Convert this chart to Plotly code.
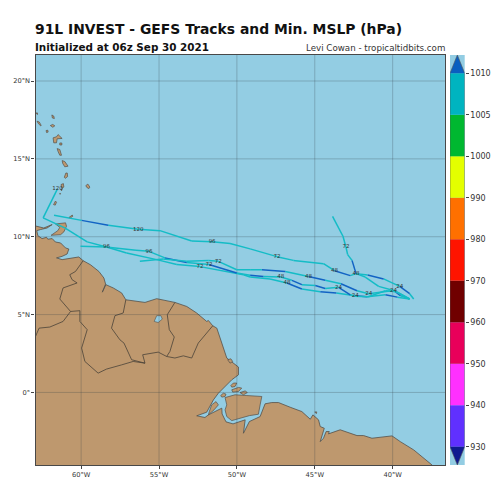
import plotly.graph_objects as go

TITLE = "91L INVEST - GEFS Tracks and Min. MSLP (hPa)"
SUBTITLE = "Initialized at 06z Sep 30 2021"
CREDIT = "Levi Cowan - tropicaltidbits.com"

LON_TICKS = [-60, -55, -50, -45, -40]
LON_LABELS = ["60°W", "55°W", "50°W", "45°W", "40°W"]
LAT_TICKS = [0, 5, 10, 15, 20]
LAT_LABELS = ["0°", "5°N", "10°N", "15°N", "20°N"]

LEVELS = [930, 940, 950, 960, 970, 980, 990, 1000, 1005, 1010]
BIN_COLORS = ["#6030ff", "#ff30ff", "#e8005a", "#700000", "#ff1400",
              "#ff7000", "#e4ff00", "#00b830", "#00b4c0"]
OVER_COLOR = "#0a5fc0"
UNDER_COLOR = "#101a90"

# ---- tracks: lon, lat, min. MSLP per leg, forecast-hour label per point
T1_LON = [-38.65, -38.91, -39.55, -40.58, -41.61, -42.35, -42.72, -43.73, -44.44, -46.37,
          -47.43, -49.15, -50.44, -51.59, -52.90, -54.94, -56.33, -58.26, -59.97, -61.74]
T1_LAT = [6.00, 6.34, 6.81, 7.29, 7.54, 7.63, 7.50, 7.82, 8.27, 8.48,
          8.72, 9.22, 9.56, 9.67, 9.73, 10.39, 10.48, 10.73, 11.05, 11.38]
T1_P = [1008, 1011, 1008, 1011, 1008, 1008, 1011, 1008, 1008, 1008,
        1008, 1008, 1008, 1008, 1008, 1008, 1008, 1011, 1008, 1008]
T1_H = ["", "", "24", "", "", "", "", "48", "", "",
        "72", "", "", "96", "", "", "120", "", "", ""]

T2_LON = [-38.91, -39.50, -39.94, -40.90, -41.76, -42.35, -42.61, -42.89, -43.00, -43.19, -43.86]
T2_LAT = [6.00, 6.21, 6.55, 6.81, 7.41, 7.63, 8.48, 8.85, 9.34, 10.03, 11.31]
T2_P = [1008, 1011, 1008, 1008, 1008, 1011, 1008, 1008, 1008, 1008, 1008]
T2_H = ["", "", "24", "", "", "48", "", "", "72", "", ""]

T3_LON = [-38.91, -39.70, -40.47, -41.63, -42.40, -43.62, -44.65, -45.83, -46.79, -47.87, -49.15,
          -49.58, -52.37, -53.86, -55.15, -57.08, -58.37, -59.61, -61.05, -62.44, -61.52]
T3_LAT = [6.00, 6.12, 6.28, 6.15, 6.21, 6.39, 6.47, 6.64, 7.03, 7.29, 7.41,
          7.56, 8.08, 8.21, 8.53, 8.96, 9.34, 9.67, 10.57, 11.21, 13.07]
T3_P = [1008, 1011, 1008, 1011, 1008, 1011, 1008, 1011, 1008, 1008, 1008,
        1008, 1008, 1008, 1008, 1008, 1008, 1008, 1008, 1008, 1008]
T3_H = ["", "", "", "", "24", "", "", "", "48", "", "",
        "", "72", "", "", "", "96", "", "", "", "120"]

T4_LON = [-38.91, -39.76, -40.47, -41.56, -42.40, -42.72, -43.47, -44.33, -44.97, -45.83, -46.47,
          -47.18, -48.30, -49.15, -50.01, -51.79, -53.22, -54.62, -55.65, -56.48, -58.41, -60.04]
T4_LAT = [6.00, 6.47, 6.53, 6.15, 6.18, 6.26, 6.75, 6.68, 6.87, 6.92, 7.20,
          7.41, 7.45, 7.52, 7.67, 8.21, 8.35, 8.64, 9.06, 9.13, 9.34, 9.38]
T4_P = [1008, 1008, 1008, 1008, 1008, 1011, 1008, 1011, 1008, 1011, 1008,
        1008, 1011, 1008, 1011, 1008, 1011, 1008, 1008, 1008, 1008, 1008]
T4_H = ["", "", "", "", "", "", "24", "", "", "", "",
        "48", "", "", "", "72", "", "", "96", "", "", ""]

T5_LON = [-38.91, -39.94, -41.54, -42.29, -43.32, -44.33, -45.40, -46.90, -48.40, -49.15,
          -50.01, -51.19, -51.83, -53.22, -54.73, -56.23]
T5_LAT = [6.00, 6.55, 6.34, 6.53, 6.98, 7.20, 7.45, 7.76, 7.88, 7.88,
          7.88, 8.42, 8.48, 8.43, 8.57, 8.42]
T5_P = [1008, 1008, 1008, 1011, 1008, 1011, 1008, 1011, 1008, 1008,
        1008, 1008, 1008, 1008, 1008, 1008]
T5_H = ["", "", "24", "", "", "", "48", "", "", "",
        "", "72", "", "", "", ""]

TRACKS = [(T1_LON, T1_LAT, T1_P, T1_H), (T2_LON, T2_LAT, T2_P, T2_H), (T3_LON, T3_LAT, T3_P, T3_H),
          (T4_LON, T4_LAT, T4_P, T4_H), (T5_LON, T5_LAT, T5_P, T5_H)]

# ---- geography
MAIN_LON = [-63.3, -62.40, -61.86, -62.19, -62.61, -62.85, -62.78, -62.51, -62.22, -62.14, -61.86, -61.65,
            -61.32, -61.00, -60.79, -60.90, -61.22, -61.58, -61.22, -60.68, -60.15, -59.87, -59.40, -58.86,
            -58.54, -58.43, -58.64, -58.41, -57.94, -57.40, -57.13, -55.90, -55.15, -53.98, -53.22, -52.58,
            -51.94, -51.83, -51.55, -51.29, -50.97, -50.65, -49.90, -49.90, -50.33, -50.87, -51.19, -51.51,
            -51.72, -51.94, -52.58, -52.05, -51.83, -51.40, -50.97, -50.95, -50.70, -50.25, -49.47, -49.58,
            -49.20, -48.51, -48.40, -48.19, -47.76, -47.33, -46.58, -45.83, -45.29, -45.12, -44.76, -44.65,
            -44.39, -44.65, -44.44, -44.27, -44.07, -44.12, -43.37, -42.29, -41.87, -41.33, -40.04, -39.51,
            -38.65, -37.47, -37.0, -63.3]
MAIN_LAT = [10.78, 10.56, 10.78, 10.56, 10.46, 10.39, 10.07, 9.88, 9.96, 9.84, 9.88, 9.66,
            9.60, 9.28, 9.21, 8.89, 8.74, 8.64, 8.53, 8.64, 8.70, 8.46, 8.20, 7.77,
            7.35, 6.96, 6.44, 6.92, 6.71, 6.39, 5.95, 5.78, 6.02, 5.78, 5.52, 5.10,
            4.56, 4.62, 4.28, 4.13, 3.17, 2.21, 1.63, 1.13, 0.81, 0.28, -0.05, -0.48,
            -0.91, -1.27, -1.50, -1.61, -1.44, -1.23, -1.01, -1.38, -1.89, -2.02, -1.76, -2.62,
            -1.87, -1.55, -1.23, -0.73, -0.65, -0.65, -0.95, -1.23, -1.72, -1.44, -1.76, -2.19,
            -2.30, -3.16, -2.94, -2.51, -2.51, -2.66, -2.40, -2.77, -2.77, -2.94, -2.79, -3.16,
            -3.69, -4.66, -5.2, -5.2]

ISLANDS = [
    ([-50.76, -50.12, -49.36, -48.40, -48.51, -48.62, -49.20, -49.80, -50.33, -50.65, -50.76, -50.65],
     [-0.33, -0.15, -0.20, -0.26, -0.80, -1.40, -1.49, -1.65, -1.81, -1.55, -1.12, -0.80]),
    ([-51.77, -51.62, -51.34, -51.19, -51.47, -51.83], [-1.23, -0.80, -0.59, -0.80, -1.12, -1.44]),
    ([-51.04, -50.87, -50.70, -50.76, -50.97], [-0.20, -0.05, -0.11, -0.26, -0.30]),
    ([-50.39, -50.23, -50.01, -50.12, -50.33], [0.44, 0.60, 0.60, 0.38, 0.34]),
    ([-50.33, -49.90, -49.69, -49.90, -50.27], [0.17, 0.32, 0.28, 0.06, 0.02]),
    ([-49.80, -49.47, -49.33, -49.58], [-0.01, 0.10, -0.01, -0.15]),
    ([-50.59, -50.39, -50.27, -50.44], [2.10, 2.16, 1.99, 1.88]),
    ([-45.00, -44.87, -44.90], [-1.25, -1.25, -1.36]),
    ([-61.65, -61.00, -60.94, -61.11, -61.32, -61.93, -61.50, -61.37],
     [10.82, 10.89, 10.67, 10.31, 10.13, 10.09, 10.39, 10.60]),
    ([-62.93, -62.80, -62.80], [17.95, 17.95, 17.85]),
    ([-62.83, -62.69, -62.57, -62.59, -62.75], [17.42, 17.37, 17.16, 17.11, 17.27]),
    ([-61.88, -61.76, -61.72, -61.85], [17.82, 17.75, 17.59, 17.63]),
    ([-61.98, -61.82, -61.69, -61.82], [17.14, 17.21, 17.12, 17.03]),
    ([-62.25, -62.14, -62.12, -62.22], [16.82, 16.84, 16.72, 16.69]),
    ([-61.80, -61.58, -61.48, -61.22, -61.54, -61.58, -61.76], [16.35, 16.42, 16.56, 16.31, 16.29, 16.03, 16.03]),
    ([-61.37, -61.24, -61.24, -61.37], [16.02, 16.02, 15.89, 15.89]),
    ([-61.54, -61.37, -61.26, -61.37, -61.48], [15.66, 15.60, 15.23, 15.23, 15.47]),
    ([-61.22, -61.05, -60.84, -61.05, -61.18], [14.89, 14.83, 14.53, 14.49, 14.70]),
    ([-61.08, -60.98, -60.89, -60.87, -61.02], [13.82, 14.09, 14.09, 13.86, 13.75]),
    ([-61.29, -61.14, -61.11, -61.24], [13.35, 13.41, 13.19, 13.09]),
    ([-61.30, -61.22, -61.26], [13.03, 13.03, 12.95]),
    ([-61.38, -61.32, -61.35], [12.78, 12.78, 12.72]),
    ([-61.77, -61.65, -61.58, -61.66], [12.06, 12.29, 12.22, 12.03]),
    ([-59.70, -59.57, -59.44, -59.50, -59.63], [13.28, 13.38, 13.19, 13.09, 13.16]),
    ([-60.79, -60.57, -60.53, -60.69], [11.23, 11.39, 11.32, 11.21]),
]

LAKE_LON = [-55.15, -54.88, -54.79, -55.05, -55.31]
LAKE_LAT = [4.93, 4.93, 4.71, 4.49, 4.56]

BORDERS = [
    ([-59.87, -60.36, -60.73, -60.58, -60.26, -61.16, -61.37, -60.68, -61.16, -62.01, -62.70, -62.91, -63.2],
     [8.46, 7.77, 7.56, 7.24, 7.03, 6.71, 6.00, 5.20, 4.56, 4.20, 4.13, 3.64, 3.30]),
    ([-60.68, -60.08, -60.08, -59.61, -59.97, -59.76, -58.91, -58.37, -57.40, -56.66, -55.90],
     [5.20, 5.25, 4.56, 4.03, 2.85, 1.99, 1.24, 1.50, 1.77, 1.99, 1.88]),
    ([-57.13, -57.30, -57.83, -58.05, -57.51, -57.25, -56.76, -55.90],
     [5.95, 5.10, 4.93, 4.13, 3.38, 3.17, 2.10, 1.88]),
    ([-55.90, -56.05, -55.05, -54.51], [1.88, 2.42, 2.59, 2.31]),
    ([-53.98, -54.47, -54.34, -54.02, -54.30, -54.51], [5.78, 4.99, 4.03, 3.56, 2.63, 2.31]),
    ([-54.51, -53.98, -53.44, -52.90, -52.48, -51.55], [2.31, 2.21, 2.35, 2.21, 3.17, 4.28]),
]

LON_RANGE = [-62.93, -36.64]
LAT_RANGE = [-4.66, 21.67]

OCEAN = "#93cde3"
LAND = "#be986e"
COAST = "#55504a"
GRID = "rgba(50,60,70,0.26)"
TEAL = "#14bcc6"
BLUE = "#1263c4"
INK = "#333333"
FONT = "DejaVu Sans"

fig = go.Figure()

# land
fig.add_trace(go.Scatter(x=MAIN_LON, y=MAIN_LAT, mode="lines", fill="toself", fillcolor=LAND,
                         line=dict(color=COAST, width=0.8), hoverinfo="skip"))
for lo, la in ISLANDS:
    fig.add_trace(go.Scatter(x=lo + lo[:1], y=la + la[:1], mode="lines", fill="toself", fillcolor=LAND,
                             line=dict(color=COAST, width=0.7), hoverinfo="skip"))
fig.add_trace(go.Scatter(x=LAKE_LON + LAKE_LON[:1], y=LAKE_LAT + LAKE_LAT[:1], mode="lines", fill="toself",
                         fillcolor=OCEAN, line=dict(color=COAST, width=0.6), hoverinfo="skip"))
for lo, la in BORDERS:
    fig.add_trace(go.Scatter(x=lo, y=la, mode="lines", line=dict(color="#4a4238", width=0.8), hoverinfo="skip"))

# graticule, drawn above the land
for t in LON_TICKS:
    fig.add_trace(go.Scatter(x=[t, t], y=LAT_RANGE, mode="lines", line=dict(color=GRID, width=1), hoverinfo="skip"))
for t in LAT_TICKS:
    fig.add_trace(go.Scatter(x=LON_RANGE, y=[t, t], mode="lines", line=dict(color=GRID, width=1), hoverinfo="skip"))

# tracks, one trace per leg so the colour can follow the pressure
for lon, lat, pres, hours in TRACKS:
    for i in range(len(lon) - 1):
        color = BLUE if pres[i] >= LEVELS[-1] else TEAL
        fig.add_trace(go.Scatter(x=lon[i:i + 2], y=lat[i:i + 2], mode="lines",
                                 line=dict(color=color, width=1.5), hoverinfo="skip"))
for lon, lat, pres, hours in TRACKS:
    keep = [i for i, h in enumerate(hours) if h]
    fig.add_trace(go.Scatter(x=[lon[i] for i in keep], y=[lat[i] for i in keep],
                             text=[hours[i] for i in keep], mode="text",
                             textposition="middle center",
                             textfont=dict(family=FONT, size=5.5, color=INK), hoverinfo="skip"))

# colour bar
for i, c in enumerate(BIN_COLORS):
    fig.add_trace(go.Bar(x=[0.5], y=[1], base=[i], width=[1], marker=dict(color=c, line=dict(width=0)),
                         xaxis="x2", yaxis="y2", hoverinfo="skip"))
top = len(LEVELS) - 1
fig.add_trace(go.Scatter(x=[0, 1, 0.5, 0], y=[top, top, top + 0.44, top], mode="lines", fill="toself",
                         fillcolor=OVER_COLOR, line=dict(width=0), xaxis="x2", yaxis="y2", hoverinfo="skip",
                         cliponaxis=False))
fig.add_trace(go.Scatter(x=[0, 1, 0.5, 0], y=[0, 0, -0.44, 0], mode="lines", fill="toself",
                         fillcolor=UNDER_COLOR, line=dict(width=0), xaxis="x2", yaxis="y2", hoverinfo="skip",
                         cliponaxis=False))
fig.add_trace(go.Scatter(x=[0, 0.5, 1, 1, 0.5, 0, 0], y=[0, -0.44, 0, top, top + 0.44, top, 0], mode="lines",
                         line=dict(color="#555555", width=0.6), xaxis="x2", yaxis="y2", hoverinfo="skip",
                         cliponaxis=False))

W = H = 500
fig.update_layout(
    width=W, height=H, margin=dict(l=0, r=0, t=0, b=0), autosize=False,
    paper_bgcolor="white", plot_bgcolor=OCEAN, showlegend=False, hovermode=False, barmode="overlay",
    font=dict(family=FONT, color=INK),
    xaxis=dict(domain=[35.5 / W, 445 / W], range=LON_RANGE, tickvals=LON_TICKS, ticktext=LON_LABELS,
               ticks="outside", ticklen=3, tickwidth=0.8, tickcolor="#444444", tickfont=dict(size=6.7, color=INK),
               showgrid=False, zeroline=False, showline=True, mirror=True, linecolor="#484848", linewidth=1.2),
    yaxis=dict(domain=[1 - 465 / H, 1 - 55 / H], range=LAT_RANGE, tickvals=LAT_TICKS, ticktext=LAT_LABELS,
               ticks="outside", ticklen=3, tickwidth=0.8, tickcolor="#444444", tickfont=dict(size=6.7, color=INK),
               showgrid=False, zeroline=False, showline=True, mirror=True, linecolor="#484848", linewidth=1.2),
    xaxis2=dict(domain=[450 / W, 464.7 / W], range=[0, 1], anchor="y2", visible=False),
    yaxis2=dict(domain=[1 - 465 / H, 1 - 55 / H], range=[-0.44, top + 0.44], anchor="x2", side="right",
                tickvals=list(range(len(LEVELS))), ticktext=[str(v) for v in LEVELS],
                ticks="outside", ticklen=3, tickwidth=0.8, tickcolor="#444444",
                tickfont=dict(size=8, color=INK), showgrid=False, zeroline=False, showline=False),
    annotations=[
        dict(text="<b>" + TITLE + "</b>", xref="paper", yref="paper", x=33 / W, y=1 - 39 / H,
             xanchor="left", yanchor="bottom", showarrow=False, font=dict(size=13.9, color="#111111", family=FONT)),
        dict(text="<b>" + SUBTITLE + "</b>", xref="paper", yref="paper", x=33 / W, y=1 - 55 / H,
             xanchor="left", yanchor="bottom", showarrow=False, font=dict(size=10.4, color="#111111", family=FONT)),
        dict(text=CREDIT, xref="paper", yref="paper", x=447 / W, y=1 - 55 / H,
             xanchor="right", yanchor="bottom", showarrow=False, font=dict(size=8.7, color=INK, family=FONT)),
    ],
)

fig.write_html("out.html", config={"displayModeBar": False},
               post_script="document.body.style.margin='0';document.body.style.overflow='hidden';")
